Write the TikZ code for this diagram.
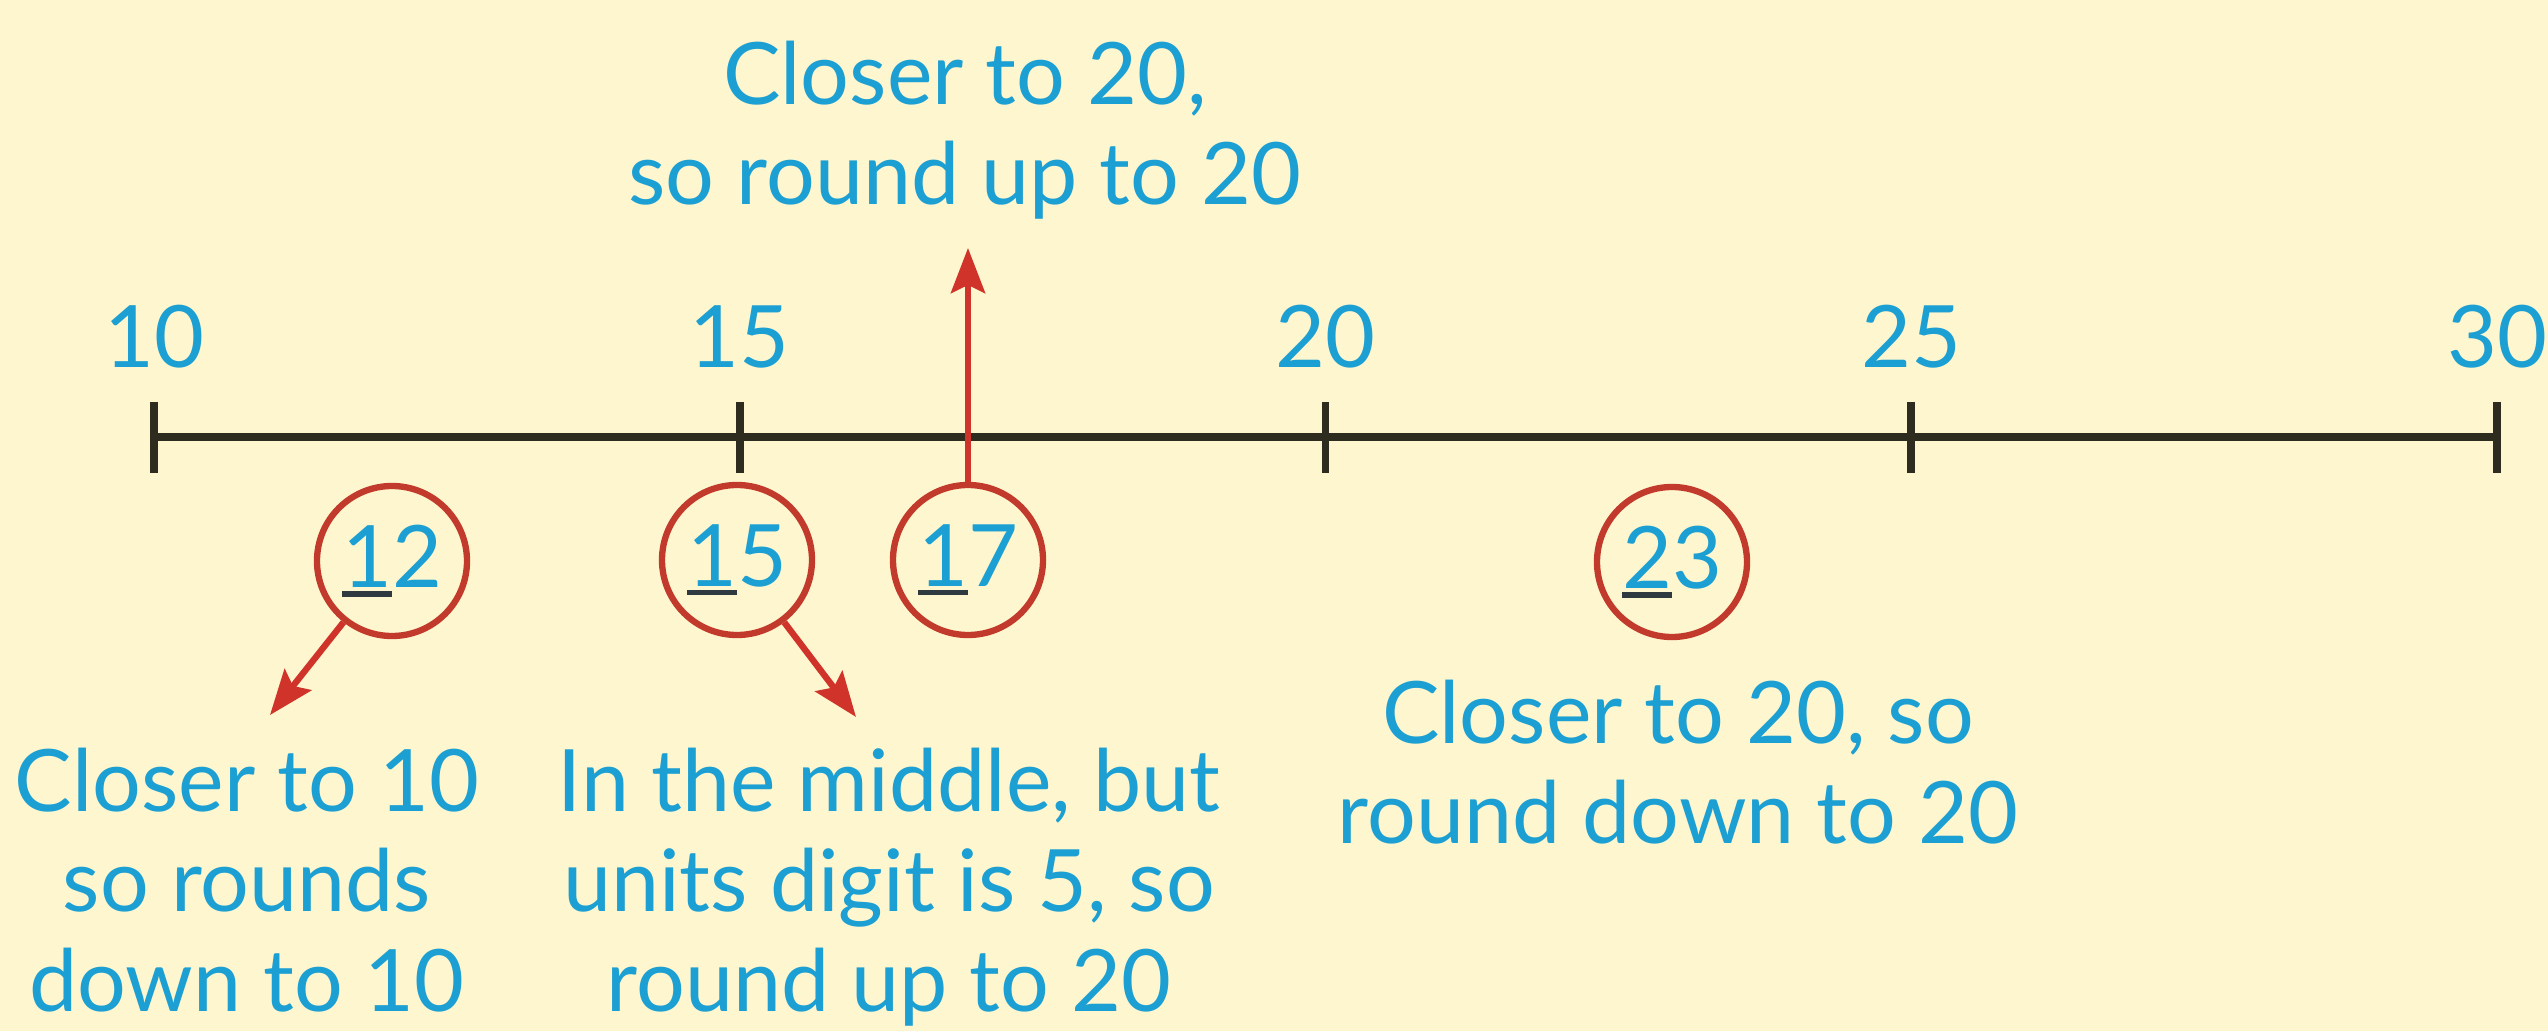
\documentclass[tikz,border=0pt]{standalone}
\usepackage{fontspec}
\setmainfont{Lato}
\usepackage{tikz}
\usetikzlibrary{arrows.meta}

\definecolor{bgyellow}{HTML}{FDF6CF}
\definecolor{numblue}{HTML}{1C9FD2}
\definecolor{ringred}{HTML}{C23A2C}
\definecolor{arrowred}{HTML}{CF3329}
\definecolor{axisdark}{HTML}{2E2B1F}
\definecolor{ulgray}{HTML}{2F3A40}

% tens digit with a dark bar under it
\newcommand\tensdigit[1]{\sbox0{#1}\makebox[0pt][l]{\textcolor{ulgray}{\rule[-2.5pt]{\wd0}{1.5pt}}}\usebox0}

\begin{document}
\begin{tikzpicture}[
    txt/.style={text=numblue,font=\fontsize{24.5}{28.45}\selectfont},
    note/.style={txt,align=center,anchor=north,inner sep=0pt},
    ring/.style={draw=ringred,line width=1.8pt,circle,minimum size=1.5cm,inner sep=0pt,txt},
    redarrow/.style={arrowred,line width=1.8pt,-{Stealth[length=4.5mm,width=3.4mm,inset=0.8mm]}}
  ]
  \fill[bgyellow] (0,0) rectangle (25.48,-10.31);
  \useasboundingbox (0,0) rectangle (25.48,-10.31);

  % number line
  \draw[axisdark,line width=2.2pt] (1.54,-4.37) -- (24.97,-4.37);
  \foreach \n in {10,15,...,30} {
    \draw[axisdark,line width=2.2pt] ({1.54+(\n-10)*1.1715},-4.02) -- ({1.54+(\n-10)*1.1715},-4.73);
    \node[txt,anchor=base,inner sep=0pt] (lbl\n) at ({1.54+(\n-10)*1.1715},-3.68) {\n};
  }

  % circled numbers
  \node[ring] (c12) at (3.92,-5.61) {\tensdigit{1}2};
  \node[ring] (c15) at (7.37,-5.60) {\tensdigit{1}5};
  \node[ring] (c17) at (9.68,-5.60) {\tensdigit{1}7};
  \node[ring] (c23) at (16.72,-5.62) {\tensdigit{2}3};

  \coordinate (t12) at (2.70,-7.15);
  \coordinate (t15) at (8.56,-7.17);
  \coordinate (t17) at (9.68,-2.48);

  \draw[redarrow] (c12) -- (t12);
  \draw[redarrow] (c15) -- (t15);
  \draw[redarrow] (c17) -- (t17);

  % explanations
  \node[note] (n17) at (9.65,-0.40) {Closer to 20,\\so round up to 20};
  \node[note] (n12) at (2.47,-7.47) {Closer to 10\\so rounds\\down to 10};
  \node[note] (n15) at (8.89,-7.47) {In the middle, but\\units digit is 5, so\\round up to 20};
  \node[note] (n23) at (16.78,-6.79) {Closer to 20, so\\round down to 20};
\end{tikzpicture}
\end{document}
